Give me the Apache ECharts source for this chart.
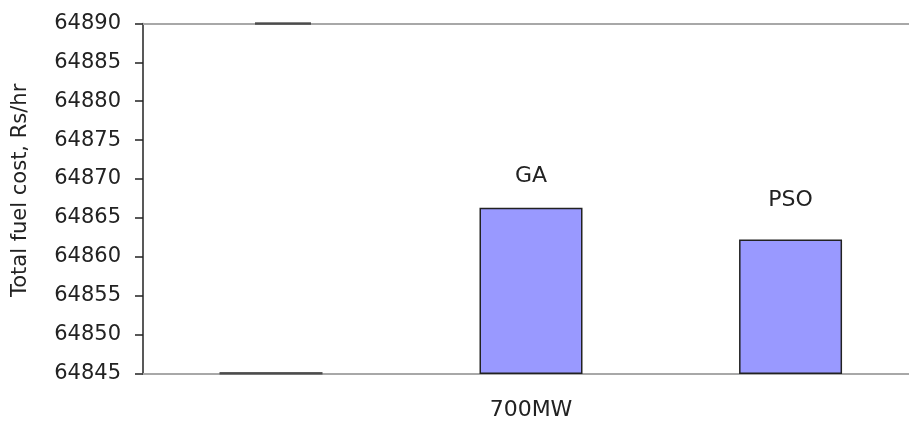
<!DOCTYPE html>
<html><head><meta charset="utf-8">
<script src="https://cdn.jsdelivr.net/npm/echarts@6/dist/echarts.min.js"></script>
<style>html,body{margin:0;padding:0;background:#fff}#c{width:909px;height:421px}</style>
</head><body><div id="c"></div>
<script>
const categories = ['700MW'];
const seriesNames = ['', 'GA', 'PSO'];
const blankValues = [64845];
const gaValues = [64866.3];
const psoValues = [64862.2];
const topMarkValues = [64890];
const yMin = 64845, yMax = 64890, yStep = 5;

const font = 'DejaVu Sans';
const chart = echarts.init(document.getElementById('c'));
const barStyle = { color: '#9999ff', borderColor: '#222', borderWidth: 1.5 };
chart.setOption({
  animation: false,
  textStyle: { fontFamily: font },
  grid: { left: 143, width: 776, top: 23.5, bottom: 47.7, containLabel: false, outerBoundsMode: 'none' },
  xAxis: [{
    type: 'category', data: categories,
    axisLine: { lineStyle: { color: '#a8a8a8', width: 2 } },
    axisTick: { show: false },
    axisLabel: { color: '#222', fontFamily: font, fontSize: 22, margin: 26 }
  }, {
    type: 'category', data: categories, position: 'top',
    axisLine: { lineStyle: { color: '#a8a8a8', width: 2 } },
    axisTick: { show: false }, axisLabel: { show: false }
  }],
  yAxis: {
    type: 'value', min: yMin, max: yMax, interval: yStep,
    name: 'Total fuel cost, Rs/hr', nameLocation: 'middle', nameGap: 112,
    nameTextStyle: { color: '#222', fontFamily: font, fontSize: 21, padding: [0, 0, 0, 16] },
    axisLine: { show: true, lineStyle: { color: '#222', width: 1.5 } },
    axisTick: { show: true, length: 8, lineStyle: { color: '#222', width: 1.5 } },
    axisLabel: { color: '#222', fontFamily: font, fontSize: 21, margin: 22, formatter: v => String(v) },
    splitLine: { show: false }
  },
  series: [
    { name: seriesNames[0], type: 'bar', data: blankValues, barWidth: 103, barGap: '152%',
      itemStyle: { color: 'transparent', borderWidth: 0 }, silent: true },
    { name: seriesNames[1], type: 'bar', data: gaValues, barWidth: 103, barGap: '152%', itemStyle: barStyle, z: 10,
      label: { show: true, position: 'top', distance: 20, formatter: seriesNames[1], color: '#222', fontFamily: font, fontSize: 22 } },
    { name: seriesNames[2], type: 'bar', data: psoValues, barWidth: 103, barGap: '152%', itemStyle: barStyle, z: 10,
      label: { show: true, position: 'top', distance: 28, formatter: seriesNames[2], color: '#222', fontFamily: font, fontSize: 22 } },
    { type: 'scatter', data: blankValues, symbol: 'rect', symbolSize: [103, 2.5], symbolOffset: [-260, 0],
      itemStyle: { color: '#333' }, silent: true, z: 10 },
    { type: 'scatter', data: topMarkValues, symbol: 'rect', symbolSize: [56, 2.5], symbolOffset: [-248, 0],
      itemStyle: { color: '#333' }, silent: true, z: 10 }
  ]
});
</script></body></html>
